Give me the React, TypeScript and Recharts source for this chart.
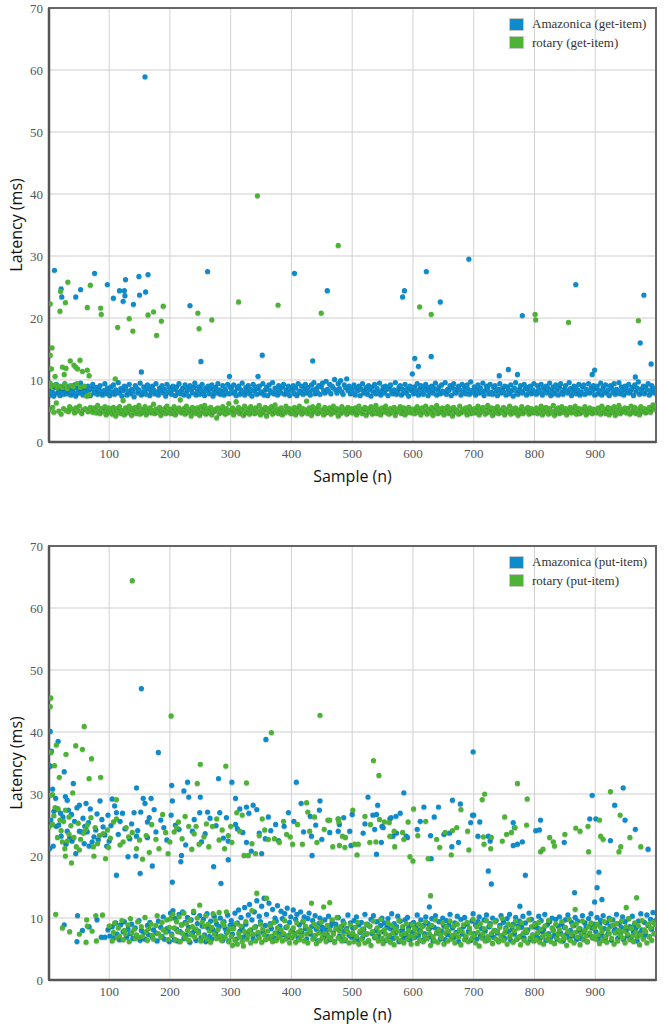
import React from 'react';
import {
  CartesianGrid,
  Legend,
  ReferenceArea,
  Scatter,
  ScatterChart,
  XAxis,
  YAxis,
} from 'recharts';

// sample numbers run 1..1000, the dense bands are kept every 2nd sample
const BAND_STEP = 2;

const xTicks = [100, 200, 300, 400, 500, 600, 700, 800, 900];
const yTicks = [0, 10, 20, 30, 40, 50, 60, 70];

// ---- get-item ----
const getAmazonicaBand = [
  8.4,7.6,9.1,8.0,7.4,8.8,9.3,7.9,8.2,7.5,8.9,8.1,7.7,9.4,8.5,7.8,8.3,9.0,7.6,8.6,8.0,9.2,7.4,8.7,8.1,7.9,9.5,8.3,7.6,8.9,8.2,7.8,9.0,8.4,7.5,8.6,9.3,7.9,8.1,8.8,7.7,8.5,9.1,8.0,7.6,8.3,9.4,7.8,8.7,8.2,
  7.5,8.9,8.1,9.2,7.7,8.4,8.0,9.6,7.9,8.6,7.4,8.3,9.0,8.8,7.6,8.2,9.3,7.8,8.5,8.1,7.3,9.1,8.7,7.9,8.4,9.5,7.6,8.0,8.9,8.3,7.7,9.2,8.6,7.5,8.2,9.0,8.4,7.8,9.4,8.1,7.6,8.7,8.3,9.1,7.9,8.5,7.4,9.3,8.0,8.8,
  8.2,7.7,9.0,8.5,7.5,8.9,8.1,9.4,7.8,8.3,8.7,7.6,9.2,8.0,8.6,7.4,9.1,8.4,7.9,8.8,9.5,7.6,8.2,8.9,7.7,8.5,9.3,8.0,7.5,8.7,8.3,9.0,7.8,8.6,9.2,7.4,8.1,8.8,7.9,9.4,8.4,7.7,8.2,9.1,7.6,8.5,8.0,9.3,7.8,8.9,
  8.6,7.9,9.2,8.1,7.5,8.7,9.0,7.7,8.4,9.5,8.0,7.6,8.8,8.3,9.1,7.8,8.5,7.4,9.3,8.2,8.9,7.7,8.6,9.0,7.9,8.1,9.4,7.6,8.4,8.8,7.5,9.2,8.3,8.0,9.6,7.8,8.7,8.2,7.6,9.1,8.5,7.9,8.9,9.3,7.7,8.4,8.0,9.0,7.5,8.6,
  8.3,9.1,7.8,8.7,7.5,9.4,8.2,8.0,9.0,7.7,8.5,9.3,7.9,8.8,8.1,7.6,9.2,8.4,9.6,7.8,8.6,8.0,9.1,7.7,8.9,9.5,8.3,7.9,9.8,8.5,8.2,9.3,7.8,9.0,8.7,10.1,8.4,7.9,9.4,8.6,9.9,8.1,7.7,9.2,8.8,10.2,8.3,9.0,7.8,8.5,
  8.0,9.2,7.6,8.7,8.3,9.0,7.5,8.5,9.4,7.9,8.2,8.8,7.7,9.1,8.4,7.4,8.9,8.1,9.3,7.8,8.6,8.0,9.5,7.6,8.3,8.9,7.9,9.0,8.5,7.5,8.7,9.2,8.1,7.8,8.4,9.6,7.7,8.2,8.8,9.1,7.6,8.5,8.0,9.3,7.9,8.6,7.4,9.0,8.3,8.8,
  7.8,8.9,8.2,9.4,7.6,8.5,9.1,8.0,7.7,8.7,9.3,8.3,7.5,8.8,8.1,9.0,7.9,8.6,9.5,7.6,8.4,8.9,7.8,9.2,8.2,8.0,9.6,7.7,8.5,8.3,9.1,7.5,8.7,9.4,8.0,7.9,8.6,9.0,8.4,7.6,9.3,8.1,8.8,7.8,9.2,8.5,7.7,9.7,8.3,8.0,
  8.9,7.6,8.4,9.2,7.9,8.7,8.1,9.5,7.5,8.3,9.0,8.6,7.8,9.3,8.0,7.7,8.8,9.1,8.2,7.5,8.5,9.4,7.9,8.6,8.1,9.0,7.6,8.9,8.4,7.8,9.2,8.3,7.4,8.7,9.6,8.0,7.7,8.5,9.1,8.2,7.9,9.3,8.6,7.6,8.8,8.1,9.0,7.8,8.4,9.4,
  8.1,7.7,9.1,8.5,8.0,9.3,7.6,8.7,8.3,9.0,7.9,8.6,9.5,7.5,8.2,8.9,7.8,9.2,8.4,7.6,8.8,9.4,8.0,7.7,8.5,9.1,8.3,7.9,9.6,8.6,7.5,8.2,9.0,8.8,7.8,8.4,9.3,7.6,8.1,8.9,9.2,7.7,8.5,8.0,9.4,7.9,8.7,8.3,9.1,7.6,
  8.6,9.0,7.8,8.3,9.5,7.6,8.8,8.1,9.2,7.9,8.4,7.5,9.1,8.7,8.0,9.4,7.7,8.5,8.2,9.6,7.8,8.9,8.3,7.6,9.0,8.6,8.0,9.3,7.9,8.4,8.8,7.5,9.2,8.1,8.7,9.7,7.7,8.5,8.2,9.0,7.8,8.9,8.4,9.4,7.6,8.3,9.1,8.0,8.6,7.9,
];

const getRotaryBand = [
  5.2,9.5,8.9,5.6,4.8,9.2,6.3,8.7,5.0,9.0,4.5,8.8,5.4,9.3,5.1,8.6,4.9,5.7,9.1,5.3,8.9,4.7,5.5,9.4,5.0,5.8,8.8,4.6,5.2,9.0,5.4,7.4,4.9,7.6,5.6,5.1,4.8,5.5,5.3,4.7,5.9,5.0,4.6,5.4,5.2,4.9,5.7,4.4,5.1,5.5,
  4.8,5.3,4.5,5.6,5.0,4.2,5.4,4.9,5.7,4.6,5.1,6.7,4.4,5.5,5.0,4.7,5.8,5.2,4.3,5.4,4.9,5.6,4.6,5.1,5.9,4.5,5.3,4.8,5.0,5.7,4.4,5.2,4.9,5.5,4.7,5.1,6.1,4.6,5.3,5.0,4.8,5.6,4.3,5.2,4.9,5.4,4.6,5.8,5.0,4.7,
  5.3,4.6,5.0,5.7,4.4,5.2,4.9,5.5,6.8,4.7,5.1,5.4,4.5,5.8,5.0,4.8,5.3,4.2,5.6,4.9,5.1,4.6,5.5,5.0,4.3,5.7,4.8,5.2,5.9,4.5,5.4,4.7,5.0,5.6,4.4,5.1,4.9,5.3,3.9,5.5,4.6,5.2,4.8,5.7,5.0,4.5,5.4,4.7,6.2,5.1,
  4.8,5.5,4.4,5.2,6.5,4.9,5.6,4.6,5.1,5.3,4.3,5.8,4.7,5.0,5.4,4.5,5.7,4.9,5.2,4.6,5.5,4.8,5.0,5.9,4.4,5.3,4.7,5.1,5.6,4.2,5.4,4.9,5.0,5.7,4.5,5.2,6.0,4.8,5.3,4.6,5.1,5.5,4.4,5.0,4.7,5.8,5.2,4.9,5.4,4.6,
  5.1,4.7,5.6,4.4,5.3,4.9,5.8,5.0,4.5,5.4,4.8,5.2,6.6,4.6,5.5,5.0,4.3,5.7,4.9,5.1,5.4,4.6,5.9,4.8,5.2,5.0,4.4,5.6,4.7,5.3,4.9,5.5,4.5,5.1,5.8,4.8,5.0,5.4,4.2,5.2,4.6,5.7,5.0,4.9,5.3,4.5,5.6,4.8,5.1,5.4,
  4.7,5.2,5.5,4.4,5.0,5.8,4.8,5.3,4.6,5.1,5.6,4.3,5.4,4.9,5.0,5.7,4.5,5.2,4.8,5.9,4.6,5.3,5.0,4.4,5.5,4.9,5.1,5.8,4.7,5.2,4.5,5.4,5.0,4.8,5.6,4.3,5.1,5.3,4.9,5.7,4.6,5.0,5.5,4.4,5.2,4.8,5.6,5.0,4.7,5.3,
  5.0,4.6,5.4,5.7,4.8,5.2,4.4,5.5,5.0,4.9,5.8,4.5,5.3,5.1,4.7,5.6,4.3,5.2,5.0,5.9,4.6,5.4,4.8,5.1,5.5,4.4,5.3,4.9,5.7,4.6,5.0,5.4,4.2,5.6,4.8,5.2,5.0,4.5,5.8,4.7,5.1,5.3,4.9,5.5,4.4,5.0,5.7,4.6,5.2,4.8,
  5.4,4.7,5.1,5.8,4.4,5.3,4.9,5.6,5.0,4.5,5.2,5.9,4.8,5.0,5.5,4.3,5.4,4.7,5.1,5.7,4.6,5.2,5.0,4.8,5.6,4.4,5.3,5.0,4.9,5.8,4.5,5.1,5.4,4.7,5.5,5.0,4.3,5.2,4.8,5.7,4.6,5.3,5.1,4.9,5.6,4.5,5.0,5.4,4.7,5.2,
  4.9,5.5,4.6,5.2,5.0,5.8,4.4,5.3,4.8,5.6,5.1,4.5,5.4,5.0,4.7,5.9,4.3,5.2,4.9,5.5,4.6,5.1,5.7,4.8,5.0,5.4,4.4,5.3,4.9,5.6,4.7,5.2,5.0,5.8,4.5,5.1,5.4,4.6,5.3,4.9,5.0,5.7,4.4,5.2,4.8,5.5,5.0,4.6,5.3,4.9,
  5.2,4.7,5.5,5.0,4.5,5.8,4.9,5.3,4.6,5.1,5.6,4.4,5.4,5.0,4.8,5.7,4.3,5.2,5.0,5.9,4.6,5.3,4.9,5.1,5.5,4.7,5.4,5.0,4.5,5.8,4.8,5.2,5.6,4.6,5.0,5.3,4.4,5.7,4.9,5.1,5.4,4.7,5.2,5.0,5.6,4.8,5.5,6.0,5.3,5.8,
];

// [sample, latency]
const getAmazonicaOutliers = [
  [10,27.7],[21,24.7],[22,23.4],[45,23.4],[53,24.6],[76,27.2],[97,25.4],[107,23.2],[117,24.4],[123,22.7],
  [125,24.4],[126,23.6],[127,26.2],[140,22.2],[149,26.7],[150,23.7],[153,11.3],[159,58.9],[160,24.2],[164,27.0],
  [233,22.0],[251,13.0],[262,27.5],[298,10.6],[345,10.6],[352,14.0],[405,27.2],[435,13.1],[459,24.4],[583,23.4],
  [586,24.4],[599,11.0],[603,13.5],[609,12.2],[622,27.5],[630,13.8],[645,22.6],[692,29.5],[742,10.7],[757,11.7],
  [772,10.9],[780,20.4],[868,25.4],[895,10.9],[899,11.6],[966,10.5],[974,16.0],[980,23.7],[992,12.6],
];

const getRotaryOutliers = [
  [3,22.3],[6,15.2],[3,14.0],[5,11.8],[20,24.3],[19,21.1],[28,22.5],[32,25.8],[36,13.1],[23,12.1],
  [29,11.9],[42,12.4],[45,12.1],[48,11.8],[52,13.2],[64,11.6],[56,11.4],[26,10.9],[11,10.6],[67,10.7],
  [64,21.7],[69,25.3],[86,21.6],[87,20.6],[110,10.2],[114,18.5],[133,19.9],[139,17.9],[164,20.5],[173,21.0],
  [178,17.2],[186,19.5],[189,21.9],[246,20.8],[248,18.3],[269,19.7],[313,22.6],[344,39.7],[378,22.1],[449,20.8],
  [477,31.7],[611,21.8],[630,20.6],[801,20.6],[802,19.7],[856,19.3],[971,19.6],
];

// ---- put-item ----
const PUT_LOW_START = 101;

const putAmazonicaLow = [
  7.1,null,8.6,6.8,null,9.2,7.4,null,6.5,8.9,null,7.8,9.4,null,6.9,8.2,null,7.5,9.0,6.7,null,8.4,7.2,null,9.6,6.4,8.0,null,7.7,6.6,null,8.8,7.3,9.3,null,6.9,8.1,null,7.6,6.3,9.5,null,8.5,7.0,10.2,6.6,null,8.3,7.9,6.2,
  10.8,7.4,11.2,6.5,9.9,8.2,6.3,10.6,7.8,8.9,11.0,6.7,9.3,7.2,10.1,8.5,6.1,9.7,7.6,10.9,8.0,6.4,9.1,7.9,10.4,6.8,8.7,9.8,7.3,6.2,10.7,8.4,7.0,9.5,6.6,8.1,10.3,7.5,9.0,6.9,8.6,10.0,7.1,6.4,9.4,8.3,7.7,10.5,6.3,8.8,
  9.6,7.4,8.9,10.8,6.6,9.2,11.3,7.9,10.1,8.4,6.9,11.7,9.0,7.5,10.5,12.2,8.1,9.7,6.7,11.0,8.6,12.8,7.2,10.3,9.4,11.9,7.7,13.2,8.8,10.6,7.0,12.4,9.1,8.3,11.4,6.8,10.0,9.5,12.0,7.6,8.7,11.1,9.9,7.3,10.7,8.5,11.6,6.9,9.3,10.2,
  8.0,11.3,7.5,9.8,10.6,6.8,8.9,11.0,7.7,9.4,10.2,8.3,6.6,9.9,10.8,7.4,8.6,9.6,7.0,10.4,8.2,6.3,9.1,10.0,7.8,8.5,6.9,9.7,8.1,7.3,10.3,6.5,8.8,9.3,7.6,6.2,9.0,8.4,10.1,7.1,6.7,8.7,9.5,7.9,6.4,8.3,10.5,7.2,9.2,6.9,
  8.4,9.6,7.1,10.2,6.5,8.9,7.7,9.3,6.8,8.2,10.6,7.4,9.0,6.3,8.7,9.8,7.5,10.4,6.9,8.0,9.4,7.2,6.6,8.8,10.0,7.8,9.2,6.4,8.5,9.9,7.0,8.3,10.7,6.7,9.1,7.6,8.6,10.3,6.2,9.5,7.9,8.1,6.8,9.7,7.3,10.1,8.4,6.5,9.0,7.7,
  9.3,6.9,8.6,10.5,7.2,8.0,9.7,6.4,8.8,7.5,10.2,6.7,9.1,8.3,7.0,9.9,6.3,8.5,10.4,7.6,8.2,9.4,6.6,7.9,10.0,8.7,6.5,9.6,7.3,8.9,10.6,7.1,8.4,6.8,9.2,7.7,10.3,6.2,8.1,9.8,7.4,8.6,10.1,6.9,9.0,7.8,8.3,6.4,9.5,10.7,
  7.5,8.9,6.6,9.4,10.2,7.1,8.3,6.8,9.7,7.9,10.5,6.5,8.6,9.1,7.3,10.0,6.9,8.0,9.6,7.6,6.3,8.8,10.4,7.2,9.3,6.7,8.4,9.9,7.8,10.6,6.4,8.2,9.0,7.4,10.1,6.6,8.7,9.5,7.0,8.5,10.3,6.8,9.2,7.7,8.1,10.8,6.5,9.8,7.3,8.6,
  9.1,7.0,8.4,10.3,6.7,9.6,7.8,8.2,10.6,6.4,8.9,7.5,9.4,6.9,10.0,8.1,7.2,9.8,6.6,8.7,10.2,7.6,9.0,6.3,8.5,9.7,7.4,10.5,6.8,8.0,9.3,7.1,8.8,10.1,6.5,9.5,7.9,8.3,6.7,10.4,7.7,9.2,8.6,6.2,9.9,7.3,10.7,8.4,6.9,9.0,
  7.8,10.1,6.6,8.9,9.6,7.2,10.4,8.3,6.8,9.2,7.5,10.0,8.7,6.4,9.7,7.9,8.2,10.6,6.7,9.1,7.4,8.5,10.2,6.5,9.4,8.0,7.1,9.9,8.6,6.9,10.3,7.7,9.0,8.4,6.3,9.5,7.6,10.7,8.1,6.8,9.3,7.3,10.5,8.8,7.0,9.8,8.2,10.9,7.5,9.6,
];

const putRotaryLow = [
  8.7,null,6.3,7.7,9.2,null,6.8,8.4,7.1,null,9.6,6.5,8.0,7.4,null,8.9,6.2,9.9,7.6,null,8.2,6.7,7.3,9.4,null,6.9,8.6,7.0,null,10.1,7.8,6.4,8.3,null,9.0,7.2,6.6,null,8.8,10.4,7.5,null,6.9,9.3,8.1,null,7.7,9.7,6.5,8.5,
  9.9,7.2,10.6,8.4,6.5,9.4,7.8,10.2,6.2,8.9,7.5,10.8,6.8,9.1,8.0,6.4,9.7,7.3,8.6,11.1,6.9,8.2,10.0,7.6,12.1,6.3,9.3,7.0,8.7,10.4,6.6,9.0,7.9,6.1,8.5,10.7,7.4,9.6,6.7,8.1,10.9,7.1,6.4,9.2,8.8,6.9,11.0,7.7,6.2,8.3,
  7.0,5.6,8.3,6.4,9.1,5.8,7.5,6.9,8.7,6.2,5.5,7.8,9.4,6.6,7.2,8.0,6.0,11.2,7.4,8.5,6.3,14.0,7.7,6.8,9.0,6.1,8.2,7.3,6.5,13.2,7.9,6.7,8.8,7.1,6.2,9.3,7.6,6.4,8.4,7.0,6.9,8.1,6.3,7.5,9.6,6.6,8.6,7.2,6.0,7.8,
  6.8,8.4,7.3,6.1,9.2,7.7,6.5,8.0,7.1,9.5,6.3,8.7,7.4,6.0,8.2,7.8,12.4,6.6,9.0,7.2,5.9,8.5,7.6,6.4,9.3,6.9,11.8,7.5,6.2,8.8,7.0,8.1,6.7,9.7,7.4,6.1,8.3,10.1,6.8,7.9,8.6,6.3,7.2,9.1,6.5,8.0,7.7,6.0,8.9,7.3,
  7.6,6.2,8.5,7.0,9.3,5.8,7.9,6.6,8.2,7.3,6.0,9.0,7.5,6.4,8.7,5.6,7.8,9.5,6.9,7.1,8.4,6.3,7.7,9.8,6.7,5.9,8.1,7.4,6.5,9.2,7.2,6.1,8.8,7.6,5.7,8.3,6.8,7.9,9.6,6.4,7.3,8.6,6.0,7.5,9.1,6.6,8.0,7.1,5.8,8.9,
  6.9,8.2,7.4,5.9,9.0,6.5,7.8,8.6,6.2,7.1,9.4,6.7,8.3,7.5,5.6,8.8,7.0,6.4,9.7,7.7,6.1,8.1,7.3,6.8,9.2,5.8,7.6,8.5,6.3,7.9,9.5,6.6,7.2,8.7,6.0,7.4,9.0,6.9,8.0,5.7,7.8,8.9,6.5,7.1,9.3,6.2,8.4,7.6,6.7,9.8,
  7.2,6.0,8.6,7.7,5.5,9.1,6.8,7.4,8.3,6.3,9.6,7.0,6.5,8.8,7.5,5.9,8.0,9.4,6.6,7.8,6.2,8.5,7.1,9.9,6.4,7.6,8.2,5.8,9.0,6.9,7.3,8.7,6.1,7.9,9.5,6.7,8.4,7.0,5.7,9.2,7.5,6.4,8.1,7.8,6.0,9.7,6.8,8.6,7.2,6.3,
  8.9,6.5,7.6,9.3,6.1,8.2,7.0,5.8,8.7,7.4,6.6,9.6,7.1,6.2,8.4,7.9,5.9,9.0,6.8,7.5,8.1,6.3,9.4,7.2,6.7,8.5,5.6,7.8,9.8,6.4,7.3,8.8,6.0,7.7,9.1,6.9,8.3,5.7,7.4,9.5,6.5,8.0,7.1,6.2,8.6,7.6,9.2,6.8,7.0,8.4,
  6.6,9.0,7.3,5.9,8.5,7.8,6.4,9.4,7.0,6.1,8.2,7.5,9.7,6.7,8.8,5.8,7.6,9.1,6.3,8.0,7.2,9.5,6.8,7.9,6.0,8.6,7.4,9.9,6.5,8.3,7.1,6.2,9.2,7.7,6.9,8.7,5.7,7.3,9.6,6.6,8.1,7.8,6.0,9.0,7.0,8.4,6.4,9.3,7.5,8.9,
];

// [sample, latency]
const putAmazonicaScatter = [
  [3,40.1],[16,38.5],[5,36.9],[181,36.7],[358,38.8],[3,34.5],[153,47.0],[699,36.8],
  [2,34.6],[26,33.6],[7,30.8],[41,31.7],[145,31.0],[203,31.4],[223,30.5],[229,31.9],[280,32.5],[302,31.9],
  [408,31.9],[308,29.3],[231,29.5],[250,29.5],[204,28.9],[159,28.5],[169,29.3],[156,29.3],[12,29.3],[28,29.6],
  [31,29.0],[105,29.2],[85,28.9],[62,28.5],[51,28.2],[38,26.7],[15,27.6],[20,26.9],[109,28.1],[112,27.0],
  [122,26.9],[141,27.0],[152,27.1],[174,27.5],[185,25.8],[202,26.6],[249,27.0],[262,27.1],[266,26.1],[282,27.0],
  [293,26.2],[315,27.6],[326,27.9],[337,28.2],[343,27.5],[416,28.5],[447,28.9],[446,27.4],[431,26.4],[433,23.2],
  [434,20.1],[450,22.7],[404,25.6],[374,25.1],[366,24.1],[357,22.8],[351,20.4],[334,20.8],[326,22.2],[320,23.8],
  [308,25.1],[296,19.4],[296,22.4],[272,18.3],[284,15.6],[252,22.3],[237,24.0],[226,21.8],[218,19.1],[219,20.1],
  [204,15.8],[215,24.3],[171,18.4],[163,25.5],[163,23.0],[144,20.0],[145,23.2],[131,19.9],[112,16.9],[151,17.2],
  [96,21.6],[100,22.4],[90,24.7],[82,22.6],[75,23.1],[67,21.6],[60,24.8],[55,23.9],[45,20.4],[39,22.4],
  [31,24.0],[21,23.2],[13,24.8],[2,21.2],[8,21.6],[51,24.0],[64,23.9],[72,22.3],[29,21.9],
  [4,25.8],[9,27.2],[17,25.0],[24,26.3],[33,27.4],[35,22.9],[43,25.6],[47,27.8],[57,26.1],[59,22.0],
  [66,25.4],[69,27.6],[78,24.2],[80,26.8],[88,25.9],[93,23.4],[98,26.6],[103,24.9],[115,23.5],[118,25.6],
  [126,24.4],[134,22.8],[137,25.2],[147,24.1],[166,26.2],[177,23.9],[190,24.6],[195,22.6],[209,25.0],[240,25.9],
  [258,23.6],[276,24.9],[288,22.9],[311,24.4],[330,26.9],[347,23.7],[362,26.3],[379,22.5],[388,24.8],[395,27.0],
  [420,23.9],[440,25.0],
  [26,8.9],[47,6.2],[48,10.4],[56,8.0],[67,8.6],[80,9.7],[87,6.9],[93,6.9],[98,8.1],
  [585,30.2],[526,29.5],[946,31.0],[895,29.8],[542,28.2],[665,29.0],[678,28.4],[618,27.9],[642,27.9],[932,28.2],
  [500,26.7],[486,26.2],[477,26.0],[579,26.9],[562,26.0],[534,26.6],[540,26.7],[549,24.8],[564,26.2],[572,26.4],
  [612,25.6],[635,26.3],[698,26.6],[700,26.6],[695,25.4],[710,25.5],[765,25.4],[767,24.6],[810,25.8],[802,24.1],
  [808,24.2],[891,26.0],[901,26.0],[949,25.8],[966,24.3],[521,25.2],[477,24.0],[496,24.0],[518,23.7],[537,24.3],
  [551,24.6],[567,23.2],[573,23.7],[589,23.2],[607,24.3],[629,23.3],[651,23.5],[660,23.7],[707,23.2],[724,23.2],
  [727,22.4],[463,23.8],[498,21.7],[548,22.2],[591,23.0],[630,19.6],[540,20.3],[664,21.5],[675,22.2],[765,21.7],
  [772,21.9],[780,22.3],[849,22.2],[925,22.5],[987,21.1],[479,25.1],[724,17.6],[729,15.5],[785,16.9],[906,17.4],
  [903,14.9],[899,12.6],[911,13.0],[866,14.1],[776,11.9],[627,11.8],
];

const putRotaryScatter = [
  [138,64.4],[4,45.5],[3,44.1],[202,42.6],[447,42.7],[59,40.9],[367,39.9],[13,37.9],[45,37.8],[56,37.2],
  [4,36.7],[29,36.4],[71,35.7],[10,34.6],[250,34.8],[292,34.5],[535,35.4],
  [18,32.7],[67,32.5],[86,32.7],[40,30.2],[7,29.9],[326,31.8],[245,31.7],[112,29.1],[11,27.8],[16,27.6],
  [28,27.4],[34,26.3],[19,25.8],[1,24.7],[7,25.1],[15,23.0],[23,22.3],[34,23.5],[27,21.2],[28,20.0],
  [38,18.9],[46,21.5],[53,22.7],[62,24.3],[70,26.2],[74,21.5],[75,20.0],[84,23.3],[94,19.6],[99,21.4],
  [107,25.5],[112,26.0],[123,22.3],[132,23.1],[138,23.8],[145,21.2],[155,19.5],[161,23.3],[170,25.1],[177,22.7],
  [182,21.2],[188,26.7],[193,23.8],[200,22.3],[207,23.9],[214,25.5],[220,22.8],[225,26.4],[231,24.8],[236,21.1],
  [243,24.8],[248,21.9],[256,23.1],[264,21.5],[270,24.8],[277,26.0],[286,24.2],[290,21.2],[296,23.3],[302,22.2],
  [310,27.0],[315,24.0],[322,20.1],[329,20.1],[335,22.0],[341,20.4],[347,23.3],[352,26.0],[362,22.7],[372,22.8],
  [380,22.2],[387,25.6],[392,23.5],[402,21.9],[410,25.1],[418,21.9],[425,28.6],[427,27.1],[438,26.3],[442,22.2],
  [454,24.3],[460,25.8],
  [3,29.8],[9,26.5],[21,24.1],[25,25.6],[31,22.4],[37,24.9],[42,23.0],[49,25.3],[51,21.0],[58,23.7],
  [64,25.0],[77,24.6],[81,22.0],[90,23.6],[97,24.2],[102,22.9],[118,21.8],[128,24.6],[150,22.6],[166,20.6],
  [197,20.4],[211,24.6],[240,23.6],[260,25.2],[281,22.6],[300,24.8],[319,26.6],[356,24.2],[398,23.1],[430,24.0],
  [12,10.6],[23,8.4],[35,7.8],[51,7.4],[62,6.1],[63,9.7],[64,8.7],[72,7.9],[78,10.4],[79,6.3],[89,10.5],[100,8.7],
  [544,33.0],[772,31.7],[718,30.0],[714,29.1],[788,29.2],[925,30.4],[501,27.4],[521,26.4],[477,26.0],[463,25.8],
  [478,25.5],[530,25.1],[545,25.9],[553,25.5],[561,25.4],[569,24.0],[583,23.8],[592,25.5],[601,27.6],[621,25.6],
  [484,23.2],[489,23.0],[468,21.5],[479,21.7],[488,21.4],[504,21.9],[510,21.9],[508,20.2],[529,22.2],[539,22.3],
  [562,23.2],[570,21.5],[585,22.7],[595,19.9],[600,19.2],[608,23.3],[625,19.6],[639,22.7],[644,21.4],[653,23.8],
  [665,24.1],[663,20.2],[672,24.6],[679,27.5],[690,24.0],[692,21.0],[716,23.1],[717,21.9],[729,23.0],[728,21.2],
  [747,22.4],[751,26.3],[754,23.5],[762,23.8],[768,24.6],[787,25.0],[810,20.7],[814,21.1],[825,23.0],[831,22.3],
  [833,21.6],[850,23.5],[868,24.5],[875,24.0],[888,24.8],[889,20.7],[907,25.8],[909,23.2],[913,22.7],[941,26.6],
  [942,21.5],[939,20.7],[957,23.0],[975,21.5],
  [629,13.6],[968,13.3],[951,11.7],[867,11.4],[463,12.5],
];

const BLUE = '#0d8bcb';
const GREEN = '#4cb335';

type Pt = { x: number; y: number };

const fromBand = (values: (number | null)[], start: number): Pt[] =>
  values.flatMap((v, i) => (v == null ? [] : [{ x: start + i * BAND_STEP, y: v }]));

const fromPairs = (list: number[][]): Pt[] => list.map(([x, y]) => ({ x, y }));

const dot = (color: string) => (props: any) => {
  const { cx, cy } = props;
  if (cx == null || cy == null) return <g />;
  return (
    <g>
      <circle cx={cx} cy={cy + 1} r={2.7} fill="rgba(0,0,0,0.14)" />
      <circle cx={cx} cy={cy} r={2.6} fill={color} />
    </g>
  );
};

const tickStyle = { fill: '#555', fontSize: 13, fontFamily: '"Liberation Serif", "Times New Roman", serif' };
const labelStyle = { fill: '#111', fontSize: 16, fontFamily: '"Open Sans", sans-serif' };

const LegendBox = ({ payload }: any) => (
  <div style={{ fontFamily: '"Liberation Serif", serif', fontSize: 13, color: '#333' }}>
    {(payload || []).map((e: any) => (
      <div key={e.value} style={{ display: 'flex', alignItems: 'center', height: 18.5 }}>
        <span
          style={{
            display: 'inline-block',
            width: 13,
            height: 11,
            background: e.color,
            border: '1px solid #c8c8c8',
            marginRight: 8,
          }}
        />
        {e.value}
      </div>
    ))}
  </div>
);

interface PanelProps {
  blueName: string;
  greenName: string;
  blue: Pt[];
  green: Pt[];
}

const Panel: React.FC<PanelProps> = ({ blueName, greenName, blue, green }) => (
  <ScatterChart width={669} height={490} margin={{ top: 8, right: 13, bottom: 0, left: 0 }}>
    <CartesianGrid vertical={false} stroke="#e6e6e6" strokeWidth={2} />
    <CartesianGrid horizontal={false} stroke="#d2d2d2" strokeWidth={1} />
    <ReferenceArea x1={1} x2={1000} y1={0} y2={70} fill="none" stroke="#666" strokeWidth={2} />
    <XAxis
      type="number"
      dataKey="x"
      domain={[1, 1000]}
      ticks={xTicks}
      allowDataOverflow
      tickLine={false}
      tickSize={5}
      tickMargin={2}
      axisLine={{ stroke: '#555', strokeWidth: 2.5 }}
      tick={tickStyle}
      height={48}
      label={{ value: 'Sample (n)', position: 'insideBottom', offset: 8, style: labelStyle }}
    />
    <YAxis
      type="number"
      dataKey="y"
      domain={[0, 70]}
      ticks={yTicks}
      allowDataOverflow
      tickLine={false}
      tickSize={4}
      tickMargin={2}
      axisLine={{ stroke: '#555', strokeWidth: 2.5 }}
      tick={tickStyle}
      width={49}
      label={{
        value: 'Latency (ms)',
        angle: -90,
        position: 'insideLeft',
        offset: 16,
        style: { ...labelStyle, textAnchor: 'middle' },
      }}
    />
    <Legend
      layout="horizontal"
      verticalAlign="middle"
      align="center"
      content={<LegendBox />}
      wrapperStyle={{ left: 509, top: 15, width: 150, height: 'auto' }}
    />
    <Scatter name={blueName} data={blue} fill={BLUE} shape={dot(BLUE)} isAnimationActive={false} />
    <Scatter name={greenName} data={green} fill={GREEN} shape={dot(GREEN)} isAnimationActive={false} />
  </ScatterChart>
);

const getBlue = [...fromBand(getAmazonicaBand, 1), ...fromPairs(getAmazonicaOutliers)];
const getGreen = [...fromBand(getRotaryBand, 1), ...fromPairs(getRotaryOutliers)];
const putBlue = [...fromBand(putAmazonicaLow, PUT_LOW_START), ...fromPairs(putAmazonicaScatter)];
const putGreen = [...fromBand(putRotaryLow, PUT_LOW_START), ...fromPairs(putRotaryScatter)];

export default function App() {
  return (
    <div style={{ position: 'absolute', left: 0, top: 0, width: 669, height: 1031, background: '#fff' }}>
      <div style={{ position: 'absolute', left: 0, top: 0 }}>
        <Panel blueName="Amazonica (get-item)" greenName="rotary (get-item)" blue={getBlue} green={getGreen} />
      </div>
      <div style={{ position: 'absolute', left: 0, top: 538 }}>
        <Panel blueName="Amazonica (put-item)" greenName="rotary (put-item)" blue={putBlue} green={putGreen} />
      </div>
    </div>
  );
}
